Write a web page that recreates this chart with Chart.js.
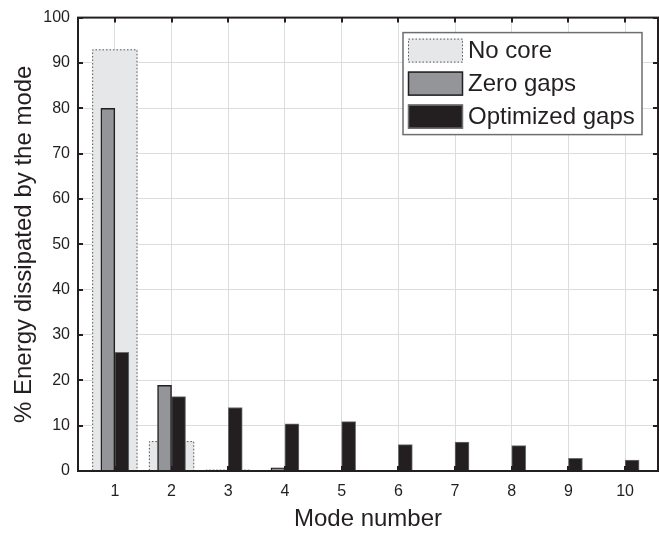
<!DOCTYPE html>
<html lang="en">
<head>
    <meta charset="UTF-8">
    <title>Energy dissipated by mode</title>
    <script src="https://cdn.jsdelivr.net/npm/chart.js"></script>
    <style>
        body {
            margin: 0;
            background-color: #ffffff;
        }
        #wrap {
            width: 659px;
            height: 534px;
        }
    </style>
</head>
<body>
    <div id="wrap">
        <canvas id="modeChart" width="659" height="534"></canvas>
    </div>

    <script>
        // Data
        const modes = [1, 2, 3, 4, 5, 6, 7, 8, 9, 10];
        const noCore = [93.0, 6.6, 0.3, 0, 0, 0, 0, 0, 0, 0];
        const zeroGaps = [80.0, 18.9, 0, 0.7, 0, 0, 0, 0, 0, 0];
        const optimizedGaps = [26.2, 16.4, 14.0, 10.4, 10.9, 5.8, 6.4, 5.6, 2.8, 2.4];
        const yTicks = [0, 10, 20, 30, 40, 50, 60, 70, 80, 90, 100];

        const FONT = '"Liberation Sans", Arial, Helvetica, sans-serif';
        const INK = '#231f20';

        const toPoints = vals => modes.map((m, i) => ({ x: m, y: vals[i] }));

        // dotted outline for the "No core" bars
        const dottedBars = {
            id: 'dottedBars',
            afterDatasetDraw(chart, args) {
                if (args.index !== 0) return;
                const ctx = chart.ctx;
                ctx.save();
                ctx.strokeStyle = '#58595b';
                ctx.lineWidth = 1;
                ctx.setLineDash([1.5, 2]);
                args.meta.data.forEach(bar => {
                    const p = bar.getProps(['x', 'y', 'base', 'width'], true);
                    if (Math.abs(p.base - p.y) < 0.5) return;
                    const l = p.x - p.width / 2, r = p.x + p.width / 2;
                    ctx.beginPath();
                    ctx.moveTo(l + 0.5, p.base);
                    ctx.lineTo(l + 0.5, p.y + 0.5);
                    ctx.lineTo(r - 0.5, p.y + 0.5);
                    ctx.lineTo(r - 0.5, p.base);
                    ctx.stroke();
                });
                ctx.restore();
            }
        };

        // MATLAB style box with inward ticks
        const boxFrame = {
            id: 'boxFrame',
            afterDatasetsDraw(chart) {
                const { ctx, chartArea: a, scales } = chart;
                const len = 5;
                ctx.save();
                ctx.strokeStyle = INK;
                ctx.lineWidth = 2;
                ctx.beginPath();
                scales.x.ticks.forEach(t => {
                    const px = Math.round(scales.x.getPixelForValue(t.value));
                    ctx.moveTo(px, a.bottom); ctx.lineTo(px, a.bottom - len);
                    ctx.moveTo(px, a.top); ctx.lineTo(px, a.top + len);
                });
                scales.y.ticks.forEach(t => {
                    const py = Math.round(scales.y.getPixelForValue(t.value));
                    ctx.moveTo(a.left, py); ctx.lineTo(a.left + len, py);
                    ctx.moveTo(a.right, py); ctx.lineTo(a.right - len, py);
                });
                ctx.stroke();
                ctx.strokeRect(a.left, a.top, a.right - a.left, a.bottom - a.top);
                ctx.restore();
            }
        };

        // legend box drawn inside the plot, top right
        const boxLegend = {
            id: 'boxLegend',
            afterDraw(chart) {
                const { ctx, chartArea: a } = chart;
                const bx = a.right - 255, by = a.top + 15, bw = 239, bh = 102;
                ctx.save();
                ctx.fillStyle = '#ffffff';
                ctx.fillRect(bx, by, bw, bh);
                ctx.strokeStyle = '#6d6e71';
                ctx.lineWidth = 1.5;
                ctx.strokeRect(bx, by, bw, bh);
                ctx.font = '24px ' + FONT;
                ctx.textBaseline = 'middle';
                chart.data.datasets.forEach((ds, i) => {
                    const cy = by + 18 + i * 33;
                    const sx = bx + 5, sy = cy - 12;
                    ctx.fillStyle = ds.backgroundColor;
                    ctx.fillRect(sx, sy, 55, 24);
                    ctx.lineWidth = 1.5;
                    if (i === 0) {
                        ctx.setLineDash([1.5, 2]);
                        ctx.strokeStyle = '#58595b';
                        ctx.lineWidth = 1;
                    } else {
                        ctx.setLineDash([]);
                        ctx.strokeStyle = i === 1 ? INK : '#6d6e71';
                    }
                    ctx.strokeRect(sx + 0.5, sy + 0.5, 54, 23);
                    ctx.setLineDash([]);
                    ctx.fillStyle = INK;
                    ctx.fillText(ds.label, bx + 65, cy + 1);
                });
                ctx.restore();
            }
        };

        const ctx = document.getElementById('modeChart').getContext('2d');
        new Chart(ctx, {
            type: 'bar',
            data: {
                datasets: [
                    {
                        label: 'No core',
                        data: toPoints(noCore),
                        xAxisID: 'x2',
                        order: 2,
                        grouped: false,
                        backgroundColor: '#e6e7e8',
                        borderWidth: 0,
                        categoryPercentage: 0.8,
                        barPercentage: 1.0
                    },
                    {
                        label: 'Zero gaps',
                        data: toPoints(zeroGaps),
                        xAxisID: 'x',
                        order: 1,
                        backgroundColor: '#939598',
                        borderColor: INK,
                        borderWidth: 1.5,
                        barThickness: 14
                    },
                    {
                        label: 'Optimized gaps',
                        data: toPoints(optimizedGaps),
                        xAxisID: 'x',
                        order: 1,
                        backgroundColor: INK,
                        borderColor: '#6d6e71',
                        borderWidth: 1,
                        barThickness: 14
                    }
                ]
            },
            options: {
                responsive: false,
                animation: false,
                layout: {
                    padding: { top: 14, right: 1, left: 0, bottom: 0 }
                },
                plugins: {
                    legend: { display: false },
                    tooltip: { enabled: false }
                },
                scales: {
                    x: {
                        type: 'linear',
                        min: 0.35,
                        max: 10.58,
                        offset: false,
                        afterFit: s => { s.height = 63; },
                        ticks: {
                            stepSize: 1,
                            includeBounds: false,
                            padding: 11,
                            color: INK,
                            font: { family: FONT, size: 16 }
                        },
                        grid: { color: '#dcdddd', lineWidth: 1, drawTicks: false, offset: false },
                        border: { display: false },
                        title: {
                            display: true,
                            text: 'Mode number',
                            color: INK,
                            font: { family: FONT, size: 24 },
                            padding: { top: 0, bottom: 0 }
                        }
                    },
                    x2: {
                        type: 'linear',
                        min: 0.35,
                        max: 10.58,
                        offset: false,
                        display: false,
                        ticks: { stepSize: 1, includeBounds: false }
                    },
                    y: {
                        min: 0,
                        max: 100,
                        afterFit: s => { s.width = 78; },
                        afterBuildTicks: s => { s.ticks = yTicks.map(v => ({ value: v })); },
                        ticks: {
                            padding: 8,
                            color: INK,
                            font: { family: FONT, size: 16 }
                        },
                        grid: { color: '#dcdddd', lineWidth: 1, drawTicks: false },
                        border: { display: false },
                        title: {
                            display: true,
                            text: '% Energy dissipated by the mode',
                            color: INK,
                            font: { family: FONT, size: 24 },
                            padding: { top: 10, bottom: 0 }
                        }
                    }
                }
            },
            plugins: [dottedBars, boxFrame, boxLegend]
        });
    </script>
</body>
</html>
